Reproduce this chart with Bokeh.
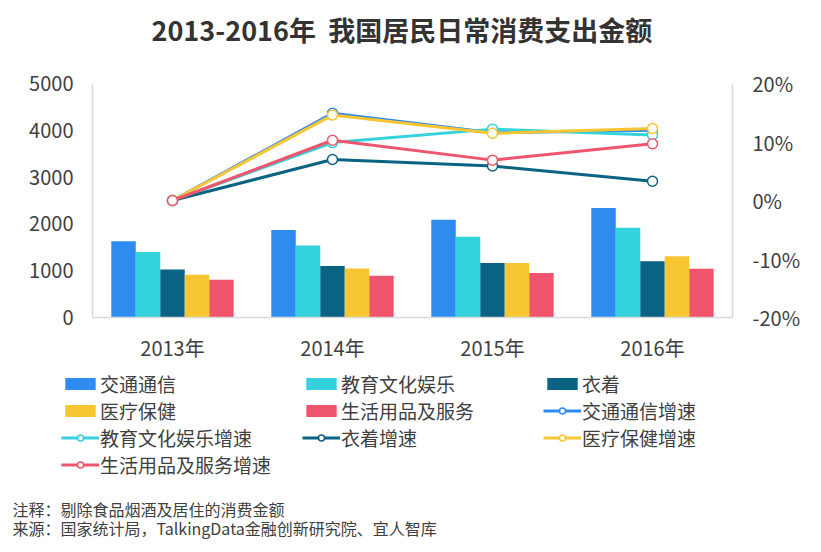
from bokeh.plotting import figure
from bokeh.layouts import column
from bokeh.models import (Range1d, FactorRange, LinearAxis, FixedTicker,
                          NumeralTickFormatter, Legend, LegendItem, Label)
from bokeh.transform import dodge
from bokeh.embed import file_html
from bokeh.resources import INLINE

# ---------------- data ----------------
years = ["2013年", "2014年", "2015年", "2016年"]

transport = [1627.1, 1869.3, 2086.9, 2337.8]     # 交通通信
education = [1397.7, 1535.9, 1723.1, 1915.3]     # 教育文化娱乐
clothing = [1027.1, 1099.3, 1164.1, 1202.7]      # 衣着
medical = [912.1, 1044.8, 1164.5, 1307.5]        # 医疗保健
household = [806.5, 889.7, 951.4, 1043.7]        # 生活用品及服务

transport_growth = [0.0, 0.149, 0.116, 0.120]
education_growth = [0.0, 0.099, 0.122, 0.112]
clothing_growth = [0.0, 0.070, 0.059, 0.033]
medical_growth = [0.0, 0.146, 0.115, 0.123]
household_growth = [0.0, 0.103, 0.069, 0.097]

bar_names = ["交通通信", "教育文化娱乐", "衣着", "医疗保健", "生活用品及服务"]
line_names = ["交通通信增速", "教育文化娱乐增速", "衣着增速", "医疗保健增速", "生活用品及服务增速"]
left_ticks = [0, 1000, 2000, 3000, 4000, 5000]
right_ticks = [-0.2, -0.1, 0.0, 0.1, 0.2]

title_text = "2013-2016年\u00a0\u00a0我国居民日常消费支出金额"
note_text = "注释：剔除食品烟酒及居住的消费金额"
source_text = "来源：国家统计局，TalkingData金融创新研究院、宜人智库"

colors = ["#2e8bef", "#33d2dc", "#0b6383", "#f8c533", "#ef566e"]
FONT = "Noto Sans CJK SC"
TXT = "#404040"

W = 813
H_TOP = 68
H_MAIN = 296
H_BOT = 180
Q_TOP = H_TOP + H_MAIN   # page y where the bottom figure starts


def blank_fig(h):
    f = figure(width=W, height=h, x_range=Range1d(0, 1), y_range=Range1d(0, 1),
               x_axis_type=None, y_axis_type=None, output_backend="svg",
               toolbar_location=None, min_border=0)
    f.outline_line_color = None
    f.grid.visible = False
    f.frame_align = False
    return f


# ---------------- title figure ----------------
t = blank_fig(H_TOP)
t.add_layout(Label(x=151, y=H_TOP - 29, x_units="screen", y_units="screen",
                   text=title_text, text_font=FONT, text_font_size="27px",
                   text_font_style="bold", text_color="#333333",
                   text_align="left", text_baseline="middle"))

# ---------------- main figure ----------------
p = figure(width=W, height=H_MAIN, x_range=FactorRange(*years),
           y_range=Range1d(0, 5000), output_backend="svg",
           toolbar_location=None, min_border_left=92, min_border_right=W - 732,
           min_border_top=83 - H_TOP, min_border_bottom=Q_TOP - 318)
p.outline_line_color = None
p.grid.visible = False
p.frame_align = False
p.extra_y_ranges = {"pct": Range1d(-0.2, 0.2)}

raxis = LinearAxis(y_range_name="pct", ticker=FixedTicker(ticks=right_ticks),
                   formatter=NumeralTickFormatter(format="0%"))
p.add_layout(raxis, "right")

for ax in [p.xaxis[0], p.yaxis[0], raxis]:
    ax.axis_line_color = "#d9d9d9"
    ax.axis_line_width = 1.5
    ax.major_tick_line_color = None
    ax.minor_tick_line_color = None
    ax.major_tick_out = 0
    ax.major_tick_in = 0
    ax.major_label_text_font = FONT
    ax.major_label_text_font_size = "20px"
    ax.major_label_text_color = TXT

p.yaxis[0].ticker = FixedTicker(ticks=left_ticks)
p.yaxis[0].major_label_standoff = 19
raxis.major_label_standoff = 20
p.xaxis[0].major_label_standoff = 15

# bars
bw = 0.153
offsets = [-2 * bw, -bw, 0.0, bw, 2 * bw]
bar_values = [transport, education, clothing, medical, household]
for vals, off, c in zip(bar_values, offsets, colors):
    p.vbar(x=dodge("x", off, range=p.x_range), top="top", width=bw,
           source={"x": years, "top": vals}, fill_color=c, line_color=None)

# growth lines
growth_values = [transport_growth, education_growth, clothing_growth,
                 medical_growth, household_growth]
for vals, c in zip(growth_values, colors):
    src = {"x": years, "y": vals}
    p.line(x="x", y="y", source=src, line_color=c, line_width=3,
           y_range_name="pct")
    p.scatter(x="x", y="y", source=src, size=10, marker="circle",
              fill_color="white", line_color=c, line_width=1.5,
              y_range_name="pct")

# ---------------- legend / notes figure ----------------
q = blank_fig(H_BOT)

# legend proxies (placed outside the visible range)
legend_bars = []
for c in colors:
    legend_bars.append(q.vbar(x=[-10], top=[-10], width=0.1,
                              fill_color=c, line_color=None))
legend_lines = []
for c in colors:
    l = q.line(x=[-10, -9], y=[-10, -10], line_color=c, line_width=3)
    s = q.scatter(x=[-10], y=[-10], size=10, marker="circle",
                  fill_color="white", line_color=c, line_width=1.5)
    legend_lines.append([l, s])

items = [LegendItem(label=n, renderers=[r]) for n, r in zip(bar_names, legend_bars)]
items += [LegendItem(label=n, renderers=rs) for n, rs in zip(line_names, legend_lines)]
legend_top = 374 - Q_TOP
legend = Legend(items=items, location=(61, H_BOT - legend_top - 104),
                orientation="horizontal", ncols=3, glyph_width=38,
                glyph_height=15, label_width=202, label_height=26,
                label_standoff=1, spacing=0, padding=0, margin=0,
                border_line_color=None, background_fill_alpha=0,
                label_text_font=FONT, label_text_font_size="19px",
                label_text_color=TXT)
q.add_layout(legend)

q.add_layout(Label(x=12, y=H_BOT - (508 - Q_TOP), x_units="screen", y_units="screen",
                   text=note_text, text_font=FONT, text_font_size="16px",
                   text_color=TXT, text_align="left", text_baseline="middle"))
q.add_layout(Label(x=12, y=H_BOT - (527 - Q_TOP), x_units="screen", y_units="screen",
                   text=source_text, text_font=FONT, text_font_size="16px",
                   text_color=TXT, text_align="left", text_baseline="middle"))

layout = column(t, p, q, spacing=0)
open("out.html", "w").write(file_html(layout, INLINE))
